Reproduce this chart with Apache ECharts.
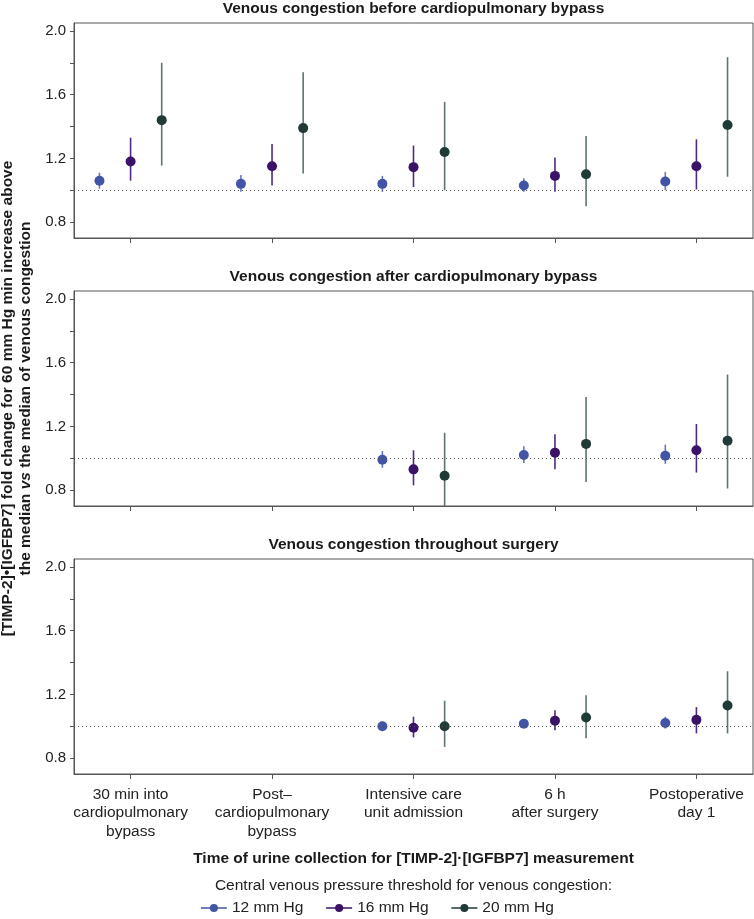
<!DOCTYPE html>
<html>
<head>
<meta charset="utf-8">
<script src="https://cdn.jsdelivr.net/npm/echarts@6/dist/echarts.min.js"></script>
<style>
html,body{margin:0;padding:0;background:#fff;}
#chart{width:754px;height:919px;}
</style>
</head>
<body>
<div id="chart"></div>
<script>
// ---- Data ----
const categories = ['30 min into\ncardiopulmonary\nbypass', 'Post–\ncardiopulmonary\nbypass', 'Intensive care\nunit admission', '6 h\nafter surgery', 'Postoperative\nday 1'];
const panelTitles = ['Venous congestion before cardiopulmonary bypass', 'Venous congestion after cardiopulmonary bypass', 'Venous congestion throughout surgery'];
const thresholds = ['12 mm Hg', '16 mm Hg', '20 mm Hg'];
const yTicks = [0.8, 1.0, 1.2, 1.4, 1.6, 1.8, 2.0];
const yLabels = [0.8, 1.2, 1.6, 2.0];

// Panel 1: before cardiopulmonary bypass
const before12 = [1.06, 1.04, 1.04, 1.03, 1.055];
const before12Lo = [1.01, 0.99, 0.99, 0.99, 1.0];
const before12Hi = [1.11, 1.095, 1.09, 1.075, 1.115];
const before16 = [1.18, 1.15, 1.145, 1.09, 1.15];
const before16Lo = [1.06, 1.03, 1.02, 0.99, 1.005];
const before16Hi = [1.33, 1.29, 1.28, 1.205, 1.32];
const before20 = [1.44, 1.39, 1.24, 1.10, 1.41];
const before20Lo = [1.155, 1.105, 1.0, 0.90, 1.085];
const before20Hi = [1.80, 1.74, 1.555, 1.34, 1.835];

// Panel 2: after cardiopulmonary bypass
const after12 = [null, null, 0.99, 1.02, 1.015];
const after12Lo = [null, null, 0.94, 0.97, 0.965];
const after12Hi = [null, null, 1.045, 1.075, 1.085];
const after16 = [null, null, 0.93, 1.035, 1.05];
const after16Lo = [null, null, 0.83, 0.93, 0.91];
const after16Hi = [null, null, 1.05, 1.15, 1.215];
const after20 = [null, null, 0.89, 1.09, 1.11];
const after20Lo = [null, null, 0.70, 0.85, 0.81];
const after20Hi = [null, null, 1.16, 1.385, 1.525];

// Panel 3: throughout surgery
const through12 = [null, null, 1.0, 1.015, 1.02];
const through12Lo = [null, null, 0.975, 0.99, 0.985];
const through12Hi = [null, null, 1.025, 1.04, 1.06];
const through16 = [null, null, 0.99, 1.035, 1.04];
const through16Lo = [null, null, 0.93, 0.975, 0.955];
const through16Hi = [null, null, 1.06, 1.10, 1.12];
const through20 = [null, null, 1.0, 1.055, 1.13];
const through20Lo = [null, null, 0.87, 0.925, 0.955];
const through20Hi = [null, null, 1.16, 1.195, 1.345];

// ---- Styles ----
const dotColors = ['#4353a6', '#3a1268', '#1f3a37'];
const barColors = ['#6878c0', '#4e2b80', '#5d7471'];
const xOffsets = [-0.22, 0, 0.22];
const FONT = '"Liberation Sans", Arial, Helvetica, sans-serif';
const FS = 15.5;

const panels = [
  [[before12, before12Lo, before12Hi], [before16, before16Lo, before16Hi], [before20, before20Lo, before20Hi]],
  [[after12, after12Lo, after12Hi], [after16, after16Lo, after16Hi], [after20, after20Lo, after20Hi]],
  [[through12, through12Lo, through12Hi], [through16, through16Lo, through16Hi], [through20, through20Lo, through20Hi]]
];

const gridTops = [23, 291, 559];
const gridH = 215;

const grids = [], xAxes = [], yAxes = [], series = [], titles = [];
panels.forEach((panel, p) => {
  grids.push({left: 74, width: 679, top: gridTops[p], height: gridH, show: true, borderColor: '#555', borderWidth: 1,
    backgroundColor: 'transparent', containLabel: false, outerBoundsMode: 'none'});
  titles.push({text: panelTitles[p], left: 413.5, textAlign: 'center', top: gridTops[p] - 22, padding: 0,
    textStyle: {fontFamily: FONT, fontSize: FS, fontWeight: 'bold', color: '#1a1a1a'}});
  xAxes.push({
    type: 'value', gridIndex: p, min: 0.6, max: 5.4,
    splitLine: {show: false},
    axisLine: {show: true, lineStyle: {color: '#555', width: 1}},
    axisTick: {show: true, customValues: [1, 2, 3, 4, 5], length: 5, lineStyle: {color: '#555'}},
    axisLabel: {show: p === 2, customValues: [1, 2, 3, 4, 5], margin: 11,
      formatter: v => categories[Math.round(v) - 1] || '',
      fontFamily: FONT, fontSize: FS, lineHeight: 18.5, color: '#222'},
    name: p === 2 ? 'Time of urine collection for [TIMP-2]·[IGFBP7] measurement' : '',
    nameLocation: 'middle', nameGap: 77,
    nameTextStyle: {fontFamily: FONT, fontSize: FS, fontWeight: 'bold', color: '#1a1a1a'}
  });
  yAxes.push({
    type: 'value', gridIndex: p, min: 0.7, max: 2.05,
    splitLine: {show: false},
    axisLine: {show: true, lineStyle: {color: '#555', width: 1}},
    axisTick: {show: true, customValues: yTicks, length: 4, lineStyle: {color: '#555'}},
    axisLabel: {customValues: yLabels, margin: 8, formatter: v => v.toFixed(1),
      fontFamily: FONT, fontSize: 15, color: '#222'},
    name: p === 1 ? '{b|[TIMP-2]•[IGFBP7] fold change for 60 mm Hg min increase above}\n{b|the median }{i|vs}{b| the median of venous congestion}' : '',
    nameLocation: 'middle', nameGap: 38, nameRotate: 90,
    nameTextStyle: {fontFamily: FONT, fontSize: FS, fontWeight: 'bold', color: '#1a1a1a', lineHeight: 17.5,
      rich: {b: {fontFamily: FONT, fontSize: FS, fontWeight: 'bold', color: '#1a1a1a', lineHeight: 17.5},
             i: {fontFamily: FONT, fontSize: FS, fontWeight: 'bold', fontStyle: 'italic', color: '#1a1a1a', lineHeight: 17.5}}}
  });
  panel.forEach((set, t) => {
    const [est, lo, hi] = set;
    const barData = [], dotData = [];
    est.forEach((v, i) => {
      if (v === null) return;
      barData.push([i + 1 + xOffsets[t], lo[i], hi[i]]);
      dotData.push([i + 1 + xOffsets[t], v]);
    });
    series.push({
      type: 'custom', xAxisIndex: p, yAxisIndex: p, silent: true, z: 2,
      data: barData,
      encode: {x: 0, y: [1, 2]},
      renderItem: (params, api) => {
        const a = api.coord([api.value(0), api.value(1)]);
        const b = api.coord([api.value(0), api.value(2)]);
        return {type: 'line', shape: {x1: a[0], y1: a[1], x2: b[0], y2: b[1]},
          style: {stroke: barColors[t], lineWidth: 1.6}};
      }
    });
    const s = {
      type: 'line', name: thresholds[t], xAxisIndex: p, yAxisIndex: p, z: 3,
      data: dotData, symbol: 'circle', symbolSize: 10, showSymbol: true,
      lineStyle: {opacity: 0}, itemStyle: {color: dotColors[t]}, silent: true
    };
    if (t === 0) {
      s.markLine = {silent: true, symbol: 'none', label: {show: false},
        lineStyle: {type: [1, 3], color: '#555', width: 1}, data: [{yAxis: 1}]};
    }
    series.push(s);
  });
});

titles.push({text: 'Central venous pressure threshold for venous congestion:', left: 413.5, textAlign: 'center', top: 878, padding: 0,
  textStyle: {fontFamily: FONT, fontSize: FS, fontWeight: 'normal', color: '#222'}});

const chart = echarts.init(document.getElementById('chart'), null, {renderer: 'canvas'});
chart.setOption({
  animation: false,
  backgroundColor: '#fff',
  title: titles,
  grid: grids,
  xAxis: xAxes,
  yAxis: yAxes,
  legend: {data: thresholds, top: 900, left: 'center', itemWidth: 26, itemHeight: 10, itemGap: 22, padding: 0,
    textStyle: {fontFamily: FONT, fontSize: FS, color: '#222'},
    lineStyle: {opacity: 1, width: 1.5}},
  series: series
});
</script>
</body>
</html>
